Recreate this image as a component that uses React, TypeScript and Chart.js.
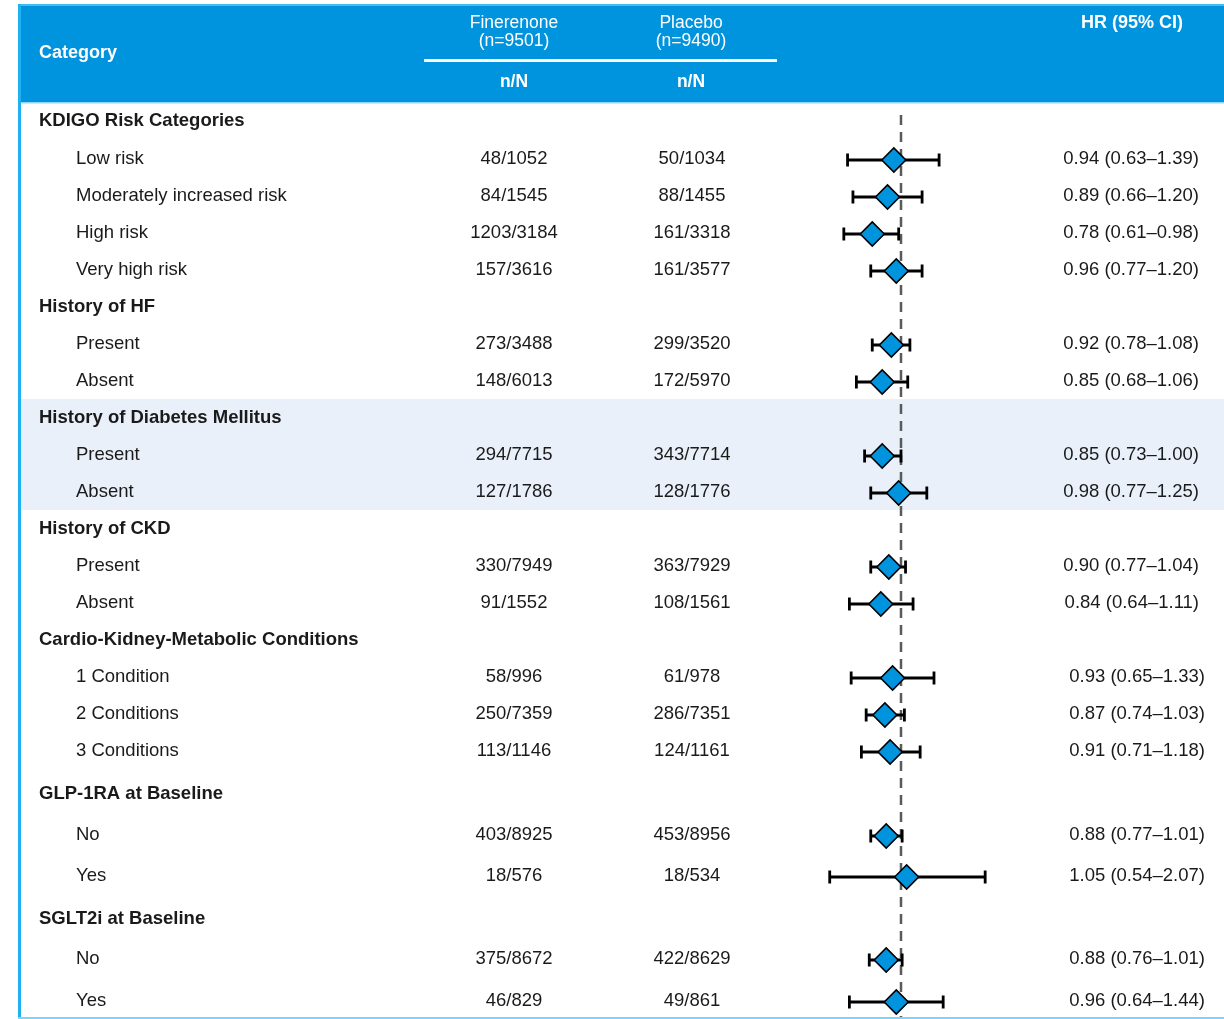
import React, { useEffect, useRef } from 'react';
import { Chart, registerables } from 'chart.js';

Chart.register(...registerables);

// ---- table rows (null = section heading) ----
const categories = [
  'KDIGO Risk Categories',
  'Low risk',
  'Moderately increased risk',
  'High risk',
  'Very high risk',
  'History of HF',
  'Present',
  'Absent',
  'History of Diabetes Mellitus',
  'Present',
  'Absent',
  'History of CKD',
  'Present',
  'Absent',
  'Cardio-Kidney-Metabolic Conditions',
  '1 Condition',
  '2 Conditions',
  '3 Conditions',
  'GLP-1RA at Baseline',
  'No',
  'Yes',
  'SGLT2i at Baseline',
  'No',
  'Yes',
];

const finerenoneEvents = [
  null, '48/1052', '84/1545', '1203/3184', '157/3616',
  null, '273/3488', '148/6013',
  null, '294/7715', '127/1786',
  null, '330/7949', '91/1552',
  null, '58/996', '250/7359', '113/1146',
  null, '403/8925', '18/576',
  null, '375/8672', '46/829',
];

const placeboEvents = [
  null, '50/1034', '88/1455', '161/3318', '161/3577',
  null, '299/3520', '172/5970',
  null, '343/7714', '128/1776',
  null, '363/7929', '108/1561',
  null, '61/978', '286/7351', '124/1161',
  null, '453/8956', '18/534',
  null, '422/8629', '49/861',
];

const hazardRatio = [
  null, 0.94, 0.89, 0.78, 0.96,
  null, 0.92, 0.85,
  null, 0.85, 0.98,
  null, 0.90, 0.84,
  null, 0.93, 0.87, 0.91,
  null, 0.88, 1.05,
  null, 0.88, 0.96,
];

const ciLower = [
  null, 0.63, 0.66, 0.61, 0.77,
  null, 0.78, 0.68,
  null, 0.73, 0.77,
  null, 0.77, 0.64,
  null, 0.65, 0.74, 0.71,
  null, 0.77, 0.54,
  null, 0.76, 0.64,
];

const ciUpper = [
  null, 1.39, 1.20, 0.98, 1.20,
  null, 1.08, 1.06,
  null, 1.00, 1.25,
  null, 1.04, 1.11,
  null, 1.33, 1.03, 1.18,
  null, 1.01, 2.07,
  null, 1.01, 1.44,
];

// rows shaded as a highlighted group
const highlightedRows = [8, 9, 10];

// ---- layout ----
const W = 1224;
const H = 1019;
const BODY_TOP = 103;
const BODY_BOTTOM = 1017;
const PLOT_LEFT = 795;
const PLOT_RIGHT = 1007;
const X_MIN = 0.4;
const X_MAX = 2.5;
// vertical spacing (px) from the previous row; first entry measured from the body top
const ROW_STEPS = [16, 38, 37, 37, 37, 37, 37, 37, 37, 37, 37, 37, 37, 37, 37, 37, 37, 37, 43, 41, 41, 43, 40, 42];
const MARK_DY = 3;
const TEXT_DY = 1.5;

const rowPos: number[] = [];
ROW_STEPS.reduce((acc, s) => {
  const p = acc + s;
  rowPos.push(p);
  return p;
}, 0);

const FONT = "'Liberation Sans', Arial, Helvetica, sans-serif";
const BLUE = '#0093DE';
const TEXT = '#1a1a1a';

const fmt = (v: number) => v.toFixed(2);

const tablePlugin = {
  id: 'forestTable',
  beforeDraw(chart: any) {
    const ctx: CanvasRenderingContext2D = chart.ctx;
    const yScale = chart.scales.y;
    const rowY = (i: number) => yScale.getPixelForValue(rowPos[i]);

    ctx.save();
    ctx.fillStyle = '#ffffff';
    ctx.fillRect(0, 0, W, H);

    // highlighted group band
    const hFirst = highlightedRows[0];
    const hLast = highlightedRows[highlightedRows.length - 1];
    ctx.fillStyle = '#E9F0FA';
    const bandTop = rowY(hFirst) - 17;
    ctx.fillRect(21, bandTop, W - 21, rowY(hLast) + 20 - bandTop);

    // header band
    ctx.fillStyle = BLUE;
    ctx.fillRect(21, 5, W - 21, BODY_TOP - 5);
    ctx.fillStyle = '#45BCF0';
    ctx.fillRect(18, 4, W - 18, 2);
    ctx.fillStyle = '#8FD5F5';
    ctx.fillRect(21, BODY_TOP - 1, W - 21, 1.5);

    // frame
    ctx.fillStyle = '#1FB2F2';
    ctx.fillRect(18, 4, 3, BODY_BOTTOM + 1 - 4);
    ctx.fillStyle = '#7CD5FC';
    ctx.fillRect(18, BODY_BOTTOM, W - 18, 2);

    // header text
    ctx.fillStyle = '#ffffff';
    ctx.textBaseline = 'middle';
    ctx.font = `bold 18px ${FONT}`;
    ctx.textAlign = 'left';
    ctx.fillText('Category', 39, 52 + TEXT_DY);
    ctx.textAlign = 'center';
    ctx.fillText('HR (95% CI)', 1132, 22 + TEXT_DY);
    ctx.font = `17.5px ${FONT}`;
    ctx.fillText('Finerenone', 514, 22 + TEXT_DY);
    ctx.fillText('(n=9501)', 514, 40 + TEXT_DY);
    ctx.fillText('Placebo', 691, 22 + TEXT_DY);
    ctx.fillText('(n=9490)', 691, 40 + TEXT_DY);
    ctx.fillRect(424, 59, 777 - 424, 3);
    ctx.font = `bold 17.5px ${FONT}`;
    ctx.fillText('n/N', 514, 81 + TEXT_DY);
    ctx.fillText('n/N', 691, 81 + TEXT_DY);

    // body rows
    ctx.fillStyle = TEXT;
    categories.forEach((label, i) => {
      const y = rowY(i) + TEXT_DY;
      const heading = hazardRatio[i] == null;
      ctx.textAlign = 'left';
      ctx.font = `${heading ? 'bold ' : ''}18.5px ${FONT}`;
      ctx.fillText(label, heading ? 39 : 76, y);
      if (heading) return;
      ctx.font = `18.5px ${FONT}`;
      ctx.textAlign = 'center';
      ctx.fillText(finerenoneEvents[i] as string, 514, y);
      ctx.fillText(placeboEvents[i] as string, 692, y);
      ctx.textAlign = 'right';
      const hr = hazardRatio[i] as number;
      const lo = ciLower[i] as number;
      const hi = ciUpper[i] as number;
      ctx.fillText(`${fmt(hr)} (${fmt(lo)}\u2013${fmt(hi)})`, i >= 14 ? 1205 : 1199, y);
    });
    ctx.restore();
  },
};

export default function App() {
  const canvasRef = useRef<HTMLCanvasElement | null>(null);

  useEffect(() => {
    document.body.style.margin = '0';
    const canvas = canvasRef.current;
    if (!canvas) return;

    const rows = categories.map((_, i) => i).filter((i) => hazardRatio[i] != null);
    const diamonds = rows.map((i) => ({ x: hazardRatio[i] as number, y: rowPos[i] + MARK_DY }));
    const caps = rows.flatMap((i) => [
      { x: ciLower[i] as number, y: rowPos[i] + MARK_DY },
      { x: ciUpper[i] as number, y: rowPos[i] + MARK_DY },
    ]);
    const whiskers = rows.flatMap((i) => [
      { x: ciLower[i] as number, y: rowPos[i] + MARK_DY },
      { x: ciUpper[i] as number, y: rowPos[i] + MARK_DY },
      { x: NaN, y: NaN },
    ]);
    const yMax = BODY_BOTTOM - BODY_TOP;

    const chart = new Chart(canvas, {
      type: 'scatter',
      data: {
        datasets: [
          {
            label: 'HR',
            data: diamonds,
            pointStyle: 'rectRot',
            pointRadius: 12,
            pointBackgroundColor: BLUE,
            pointBorderColor: '#000000',
            pointBorderWidth: 1.6,
          },
          {
            label: 'CI caps',
            data: caps,
            pointStyle: 'line',
            pointRotation: 90,
            pointRadius: 6.5,
            pointBorderColor: '#000000',
            pointBorderWidth: 2.8,
          },
          {
            label: '95% CI',
            data: whiskers,
            showLine: true,
            spanGaps: false,
            borderColor: '#000000',
            borderWidth: 2.8,
            pointRadius: 0,
          },
          {
            label: 'No effect',
            data: [
              { x: 1, y: 12 },
              { x: 1, y: yMax },
            ],
            showLine: true,
            borderColor: '#5a5a5a',
            borderWidth: 2.5,
            borderDash: [10, 7],
            pointRadius: 0,
          },
        ] as any,
      },
      options: {
        responsive: false,
        animation: false,
        devicePixelRatio: 1,
        events: [],
        layout: {
          autoPadding: false,
          padding: {
            left: PLOT_LEFT,
            right: W - PLOT_RIGHT,
            top: BODY_TOP,
            bottom: H - BODY_BOTTOM,
          },
        },
        scales: {
          x: { type: 'logarithmic', min: X_MIN, max: X_MAX, display: false },
          y: { type: 'linear', min: 0, max: yMax, reverse: true, display: false },
        },
        plugins: {
          legend: { display: false },
          tooltip: { enabled: false },
        },
      },
      plugins: [tablePlugin],
    });

    return () => chart.destroy();
  }, []);

  return (
    <div style={{ width: W, height: H }}>
      <canvas ref={canvasRef} width={W} height={H} style={{ display: 'block' }} />
    </div>
  );
}
